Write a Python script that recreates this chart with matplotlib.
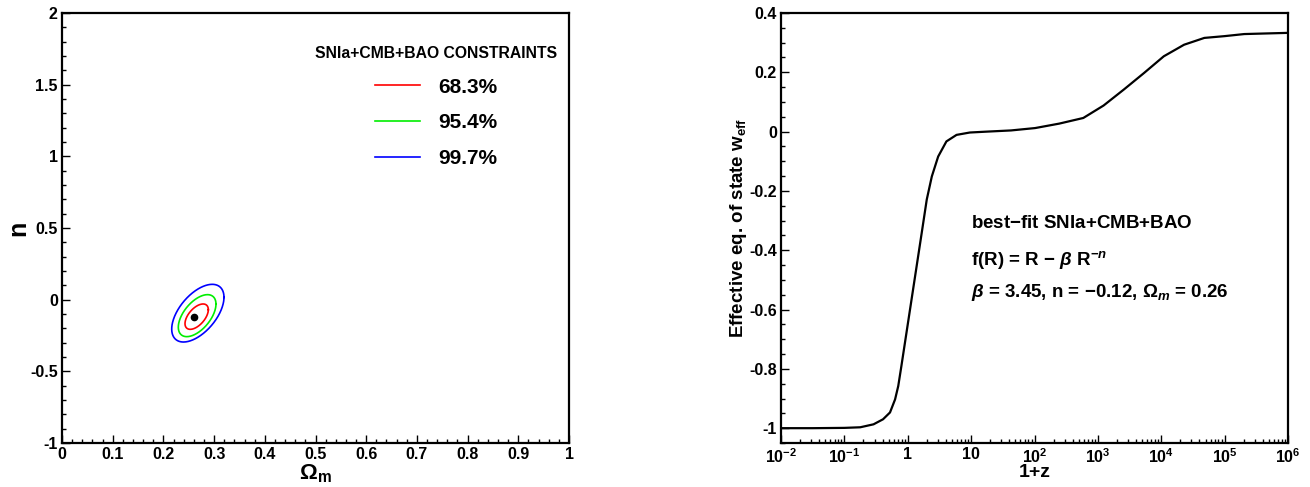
import matplotlib
matplotlib.use("Agg")
import matplotlib.pyplot as plt
import numpy as np
from matplotlib.ticker import MultipleLocator, FixedLocator, LogLocator, NullFormatter

plt.rcParams["font.family"] = ["Liberation Sans", "DejaVu Sans"]
plt.rcParams["font.weight"] = "bold"
plt.rcParams["axes.unicode_minus"] = False
plt.rcParams["mathtext.fontset"] = "custom"
plt.rcParams["mathtext.rm"] = "Liberation Sans:bold"
plt.rcParams["mathtext.bf"] = "Liberation Sans:bold"
plt.rcParams["mathtext.it"] = "Liberation Sans:bold:italic"

# --- left panel: confidence contours in (Omega_m, n)
cl_labels = ["68.3%", "95.4%", "99.7%"]
cl_colors = ["#ff0000", "#00ee00", "#0000ff"]
cl_om_lo = [0.2426, 0.2294, 0.2164]
cl_om_hi = [0.2886, 0.3037, 0.3195]
cl_n_lo = [-0.207, -0.258, -0.2955]
cl_n_hi = [-0.030, 0.035, 0.107]
cl_rho = 0.55
best_om = 0.261
best_n = -0.123

# --- right panel: effective equation of state vs 1+z
log_1pz = [-2.0, -1.5, -1.0, -0.75, -0.54, -0.39, -0.28, -0.20, -0.15, -0.10,
           -0.02, 0.06, 0.14, 0.22, 0.30, 0.38, 0.48, 0.61, 0.77, 0.98,
           1.25, 1.63, 2.01, 2.39, 2.77, 3.09, 3.41, 3.73, 4.04, 4.36,
           4.68, 5.0, 5.31, 5.65, 6.0]
w_eff = [-1.0, -1.0, -0.999, -0.997, -0.987, -0.970, -0.947, -0.903, -0.858, -0.790,
         -0.678, -0.566, -0.454, -0.342, -0.229, -0.151, -0.084, -0.033, -0.011, -0.003,
         0.0, 0.004, 0.012, 0.027, 0.046, 0.088, 0.142, 0.198, 0.254, 0.293,
         0.316, 0.322, 0.329, 0.331, 0.333]
log_ticks = [-2, -1, 0, 1, 2, 3, 4, 5, 6]
log_tick_labels = [r"$10^{-2}$", r"$10^{-1}$", "1", "10", r"$10^{2}$", r"$10^{3}$",
                   r"$10^{4}$", r"$10^{5}$", r"$10^{6}$"]


def root_style(ax):
    for s in ax.spines.values():
        s.set_linewidth(1.6)
    ax.tick_params(which="both", direction="in", top=False, right=False,
                   labelsize=11.5, pad=3, width=1.0)
    ax.tick_params(which="major", length=6)
    ax.tick_params(which="minor", length=3)
    for lab in ax.get_xticklabels() + ax.get_yticklabels():
        lab.set_fontweight("bold")


W, H = 1310, 487
fig = plt.figure(figsize=(W / 100, H / 100), dpi=100)
ax1 = fig.add_axes([62 / W, 1 - 443 / H, 507 / W, 430 / H])
ax2 = fig.add_axes([781 / W, 1 - 443 / H, 507 / W, 430 / H])

t = np.linspace(0, 2 * np.pi, 400)
phi = np.arccos(cl_rho)
for lab, col, xl, xh, yl, yh in zip(cl_labels, cl_colors, cl_om_lo, cl_om_hi, cl_n_lo, cl_n_hi):
    cx, cy = (xl + xh) / 2, (yl + yh) / 2
    hx, hy = (xh - xl) / 2, (yh - yl) / 2
    ax1.plot(cx + hx * np.cos(t), cy + hy * np.cos(t - phi), color=col, lw=1.2, label=lab)
ax1.plot([best_om], [best_n], "o", color="black", ms=4.5)

ax1.set_xlim(0, 1)
ax1.set_ylim(-1, 2)
ax1.xaxis.set_minor_locator(MultipleLocator(0.02))
ax1.yaxis.set_minor_locator(MultipleLocator(0.1))
ax1.set_xticks(np.arange(0, 1.01, 0.1))
ax1.set_xticklabels(["0", "0.1", "0.2", "0.3", "0.4", "0.5", "0.6", "0.7", "0.8", "0.9", "1"])
ax1.set_yticks([-1, -0.5, 0, 0.5, 1, 1.5, 2])
ax1.set_yticklabels(["-1", "-0.5", "0", "0.5", "1", "1.5", "2"])
root_style(ax1)
ax1.set_xlabel(r"$\Omega_{\rm m}$", fontsize=16, labelpad=0)
ax1.set_ylabel("n", fontsize=18, fontweight="bold", labelpad=0)

leg = ax1.legend(loc="upper left", bbox_to_anchor=(0.462, 0.967), frameon=False,
                 title="SNIa+CMB+BAO CONSTRAINTS", handlelength=2.15, handletextpad=0.9,
                 labelspacing=0.8, prop={"size": 15, "weight": "bold"},
                 title_fontproperties={"size": 11.3, "weight": "bold"})
leg._legend_box.align = "center"
for line in leg.get_lines():
    line.set_linewidth(1.2)

ax2.plot(10 ** np.array(log_1pz), w_eff, color="black", lw=1.6)
ax2.set_xscale("log")
ax2.set_xlim(1e-2, 1e6)
ax2.set_ylim(-1.05, 0.4)
ax2.xaxis.set_major_locator(FixedLocator([10.0 ** k for k in log_ticks]))
ax2.xaxis.set_minor_locator(LogLocator(base=10, subs=np.arange(2, 10), numticks=20))
ax2.xaxis.set_minor_formatter(NullFormatter())
ax2.set_xticklabels(log_tick_labels)
ax2.yaxis.set_minor_locator(MultipleLocator(0.05))
ax2.set_yticks([-1, -0.8, -0.6, -0.4, -0.2, 0, 0.2, 0.4])
ax2.set_yticklabels(["-1", "-0.8", "-0.6", "-0.4", "-0.2", "0", "0.2", "0.4"])
root_style(ax2)
ax2.set_xlabel("1+z", fontsize=14, fontweight="bold", labelpad=-1)
ax2.set_ylabel(r"Effective eq. of state w$_{\rm eff}$", fontsize=13.5, fontweight="bold", labelpad=0)

ax2.text(0.375, 0.51, "best$-$fit SNIa+CMB+BAO", transform=ax2.transAxes,
         fontsize=13.5, fontweight="bold", va="center")
ax2.text(0.375, 0.425, r"f(R) = R $-$ $\beta$ R$^{-n}$", transform=ax2.transAxes,
         fontsize=13.5, fontweight="bold", va="center")
ax2.text(0.375, 0.35, r"$\beta$ = 3.45, n = $-$0.12, $\Omega_{m}$ = 0.26", transform=ax2.transAxes,
         fontsize=13.5, fontweight="bold", va="center")

fig.savefig("out.png", dpi=100)
